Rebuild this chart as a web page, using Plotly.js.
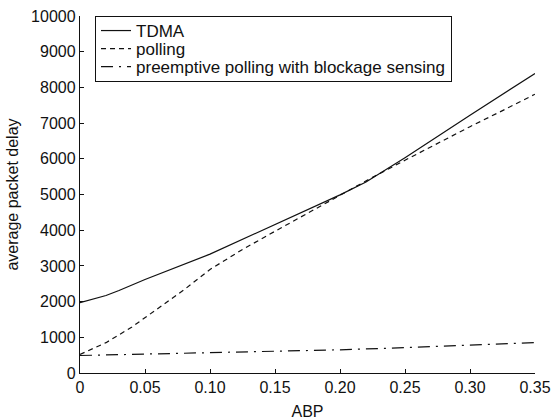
<!DOCTYPE html>
<html>
<head>
<meta charset="utf-8">
<script src="https://cdn.plot.ly/plotly-3.0.1.min.js"></script>
<style>html,body{margin:0;padding:0;background:#fff}#chart{width:551px;height:420px}</style>
</head>
<body>
<div id="chart"></div>
<script>
const seriesNames = ["TDMA", "polling", "preemptive polling with blockage sensing"];

const tdmaX = [0, 0.01, 0.02, 0.03, 0.05, 0.1, 0.15, 0.2, 0.22, 0.25, 0.3, 0.35];
const tdmaY = [1970, 2060, 2170, 2310, 2620, 3330, 4160, 4990, 5350, 6030, 7220, 8390];

const pollingX = [0, 0.01, 0.02, 0.04, 0.06, 0.08, 0.1, 0.125, 0.15, 0.175, 0.2, 0.225, 0.25, 0.275, 0.3, 0.325, 0.35];
const pollingY = [520, 680, 850, 1290, 1800, 2330, 2900, 3460, 3970, 4480, 4990, 5480, 5960, 6440, 6900, 7350, 7810];

const preemptX = [0, 0.05, 0.1, 0.15, 0.2, 0.25, 0.3, 0.35];
const preemptY = [490, 530, 560, 600, 650, 710, 780, 850];

const xTickVals = [0, 0.05, 0.1, 0.15, 0.2, 0.25, 0.3, 0.35];
const xTickText = ["0", "0.05", "0.10", "0.15", "0.20", "0.25", "0.30", "0.35"];
const yTickVals = [0, 1000, 2000, 3000, 4000, 5000, 6000, 7000, 8000, 9000, 10000];
const yTickText = ["0", "1000", "2000", "3000", "4000", "5000", "6000", "7000", "8000", "9000", "10000"];

const font = "Liberation Sans, Arial, Helvetica, sans-serif";

const traces = [
  {x: tdmaX, y: tdmaY, name: seriesNames[0], mode: "lines", line: {color: "#111", width: 1.2, dash: "solid"}},
  {x: pollingX, y: pollingY, name: seriesNames[1], mode: "lines", line: {color: "#111", width: 1.2, dash: "5px,4px"}},
  {x: preemptX, y: preemptY, name: seriesNames[2], mode: "lines", line: {color: "#111", width: 1.2, dash: "12px,6px,2px,6px"}}
];

const layout = {
  width: 551, height: 420,
  margin: {l: 80, r: 16, t: 16, b: 47},
  paper_bgcolor: "#fff", plot_bgcolor: "#fff",
  font: {family: font, size: 16, color: "#111"},
  showlegend: true,
  legend: {
    x: 0.033, y: 1, xanchor: "left", yanchor: "top",
    bgcolor: "#fff", bordercolor: "#111", borderwidth: 1,
    font: {family: font, size: 17, color: "#111"},
    tracegroupgap: 0
  },
  xaxis: {
    range: [0, 0.35], tickvals: xTickVals, ticktext: xTickText,
    showline: true, linecolor: "#111", linewidth: 1.2, mirror: false,
    showgrid: false, zeroline: false,
    ticks: "inside", ticklen: 4, tickcolor: "#111",
    tickfont: {family: font, size: 16, color: "#111"},
    title: {text: "ABP", font: {family: font, size: 16, color: "#111"}, standoff: 12}
  },
  yaxis: {
    range: [0, 10000], tickvals: yTickVals, ticktext: yTickText,
    showline: true, linecolor: "#111", linewidth: 1.2, mirror: false,
    showgrid: false, zeroline: false,
    ticks: "inside", ticklen: 4, tickcolor: "#111",
    tickfont: {family: font, size: 16, color: "#111"},
    title: {text: "average packet delay", font: {family: font, size: 16, color: "#111"}, standoff: 8}
  }
};

Plotly.newPlot("chart", traces, layout, {displayModeBar: false, staticPlot: true}).then(function (gd) {
  // tighten legend row spacing to match the reference (about 18px per row)
  try {
    const items = gd.querySelectorAll(".legend .traces");
    const bg = gd.querySelector(".legend rect.bg");
    if (items.length === 3 && bg) {
      const ys = [];
      items.forEach(function (el) {
        const m = /translate\(\s*([-\d.]+)[ ,]+([-\d.]+)\s*\)/.exec(el.getAttribute("transform") || "");
        ys.push(m ? [parseFloat(m[1]), parseFloat(m[2])] : null);
      });
      if (ys.every(Boolean)) {
        const step = 18, up = 4;
        const oldStep = ys[1][1] - ys[0][1];
        items.forEach(function (el, i) {
          el.setAttribute("transform", "translate(" + ys[i][0] + "," + (ys[0][1] - up + i * step) + ")");
        });
        const h = parseFloat(bg.getAttribute("height"));
        bg.setAttribute("height", h - 2 * (oldStep - step) - 2 * up);
      }
    }
  } catch (e) {}
});
</script>
</body>
</html>
